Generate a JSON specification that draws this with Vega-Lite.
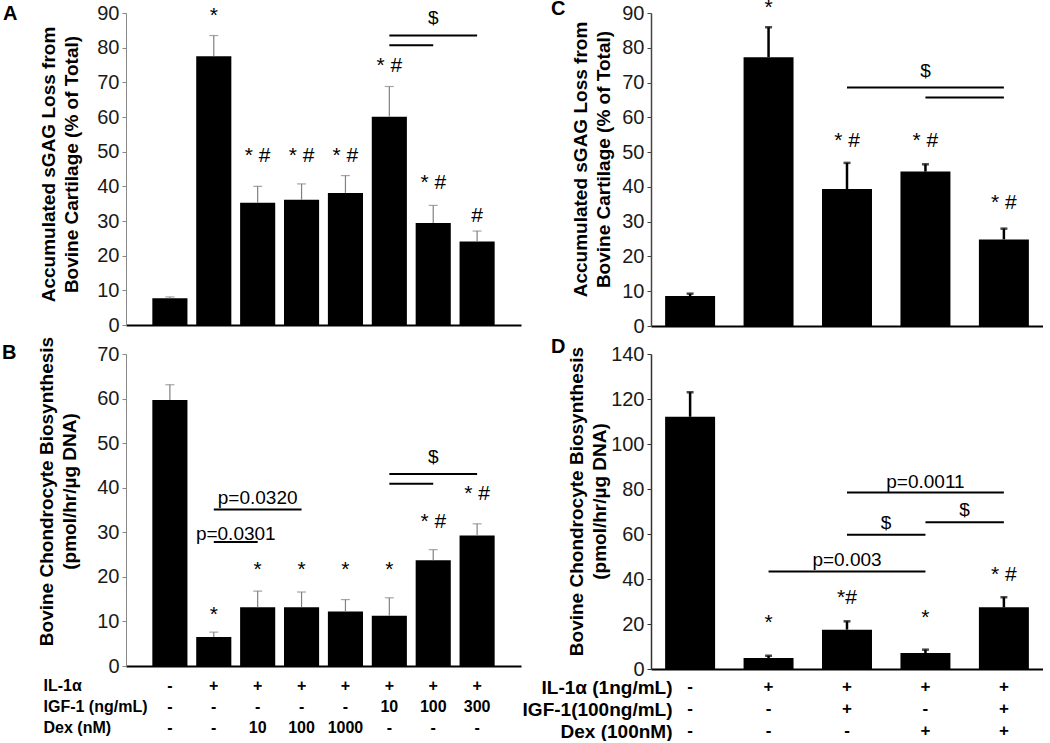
{
  "$schema": "https://vega.github.io/schema/vega-lite/v6.json",
  "background": "white",
  "padding": {"left": 2, "top": -4, "right": 0, "bottom": 0},
  "columns": 2,
  "spacing": {"row": 0, "column": 1},
  "config": {
    "view": {"stroke": null},
    "font": "Liberation Sans",
    "axis": {"grid": false, "labelFont": "Liberation Sans", "titleFont": "Liberation Sans", "labelOverlap": false},
    "axisY": {"labelOverlap": false},
    "title": {"font": "Liberation Sans", "fontSize": 20, "fontWeight": "bold", "anchor": "start", "frame": "group", "color": "black", "baseline": "alphabetic"},
    "text": {"font": "Liberation Sans", "color": "black"}
  },
  "datasets": {
    "A": [
      {"cond": "1|-|-|-", "mean": 7.7, "upper": 8.1, "sig": "", "sigY": 0},
      {"cond": "2|+|-|-", "mean": 77.5, "upper": 83.5, "sig": "*", "sigY": 87.4},
      {"cond": "3|+|-|10", "mean": 35.3, "upper": 40.0, "sig": "* #", "sigY": 47},
      {"cond": "4|+|-|100", "mean": 36.1, "upper": 40.7, "sig": "* #", "sigY": 47},
      {"cond": "5|+|-|1000", "mean": 38.1, "upper": 43.1, "sig": "* #", "sigY": 47},
      {"cond": "6|+|10|-", "mean": 60.1, "upper": 68.8, "sig": "* #", "sigY": 73},
      {"cond": "7|+|100|-", "mean": 29.4, "upper": 34.5, "sig": "* #", "sigY": 39.3},
      {"cond": "8|+|300|-", "mean": 24.1, "upper": 27.1, "sig": "#", "sigY": 29.6}
    ],
    "A_lines": [
      {"from": "6|+|10|-", "to": "8|+|300|-", "y": 83.5},
      {"from": "6|+|10|-", "to": "7|+|100|-", "y": 80.7}
    ],
    "A_notes": [
      {"at": "7|+|100|-", "y": 86.9, "label": "$"}
    ],
    "B": [
      {"cond": "1|-|-|-", "mean": 59.7, "upper": 63.1, "sig": "", "sigY": 0},
      {"cond": "2|+|-|-", "mean": 6.5, "upper": 7.6, "sig": "*", "sigY": 10.1},
      {"cond": "3|+|-|10", "mean": 13.2, "upper": 16.8, "sig": "*", "sigY": 20.1},
      {"cond": "4|+|-|100", "mean": 13.2, "upper": 16.6, "sig": "*", "sigY": 20.1},
      {"cond": "5|+|-|1000", "mean": 12.2, "upper": 14.9, "sig": "*", "sigY": 20.1},
      {"cond": "6|+|10|-", "mean": 11.3, "upper": 15.3, "sig": "*", "sigY": 20.1},
      {"cond": "7|+|100|-", "mean": 23.7, "upper": 26.1, "sig": "* #", "sigY": 31.0},
      {"cond": "8|+|300|-", "mean": 29.3, "upper": 31.9, "sig": "* #", "sigY": 37.3}
    ],
    "B_lines": [
      {"from": "6|+|10|-", "to": "8|+|300|-", "y": 43.1},
      {"from": "6|+|10|-", "to": "7|+|100|-", "y": 40.9},
      {"from": "2|+|-|-", "to": "4|+|-|100", "y": 35.1},
      {"from": "2|+|-|-", "to": "3|+|-|10", "y": 27.8}
    ],
    "B_notes": [
      {"at": "7|+|100|-", "y": 45.5, "label": "$"},
      {"at": "3|+|-|10", "y": 36.3, "label": "p=0.0320"}
    ],
    "B_notes_mid": [
      {"at": "2|+|-|-", "y": 28.3, "label": "p=0.0301"}
    ],
    "C": [
      {"cond": "1|-|-|-", "mean": 8.6, "upper": 9.3, "sig": "", "sigY": 0},
      {"cond": "2|+|-|-", "mean": 77.3, "upper": 85.9, "sig": "*", "sigY": 89.8},
      {"cond": "3|+|+|-", "mean": 39.4, "upper": 46.9, "sig": "* #", "sigY": 51.6},
      {"cond": "4|+|-|+", "mean": 44.4, "upper": 46.5, "sig": "* #", "sigY": 51.6},
      {"cond": "5|+|+|+", "mean": 24.9, "upper": 28.0, "sig": "* #", "sigY": 33.5}
    ],
    "C_lines": [
      {"from": "3|+|+|-", "to": "5|+|+|+", "y": 68.6},
      {"from": "4|+|-|+", "to": "5|+|+|+", "y": 65.7}
    ],
    "C_notes": [
      {"at": "4|+|-|+", "y": 71.7, "label": "$"}
    ],
    "D": [
      {"cond": "1|-|-|-", "mean": 112.1, "upper": 123.0, "sig": "", "sigY": 0},
      {"cond": "2|+|-|-", "mean": 4.9, "upper": 5.9, "sig": "*", "sigY": 17.8},
      {"cond": "3|+|+|-", "mean": 17.5, "upper": 21.2, "sig": "*#", "sigY": 28.9},
      {"cond": "4|+|-|+", "mean": 7.1, "upper": 8.6, "sig": "*", "sigY": 20.0},
      {"cond": "5|+|+|+", "mean": 27.4, "upper": 31.9, "sig": "* #", "sigY": 39.3}
    ],
    "D_lines": [
      {"from": "3|+|+|-", "to": "5|+|+|+", "y": 78.4},
      {"from": "3|+|+|-", "to": "4|+|-|+", "y": 59.7},
      {"from": "4|+|-|+", "to": "5|+|+|+", "y": 65.2},
      {"from": "2|+|-|-", "to": "4|+|-|+", "y": 43.3}
    ],
    "D_notes": [
      {"at": "4|+|-|+", "y": 80.3, "label": "p=0.0011"},
      {"at": "3|+|+|-", "y": 45.9, "label": "p=0.003"}
    ],
    "D_notes_mid": [
      {"at": "3|+|+|-", "y": 62.2, "label": "$"},
      {"at": "4|+|-|+", "y": 68.1, "label": "$"}
    ]
  },
  "concat": [
    {
      "width": 395, "height": 312,
      "title": {"text": "A", "dx": -123, "offset": -21},
      "layer": [
        {"data": {"name": "A"}, "mark": {"type": "bar", "color": "black"},
         "encoding": {
           "x": {"field": "cond", "type": "ordinal", "scale": {"paddingInner": 0.2, "paddingOuter": 0.6},
                 "axis": {"labels": false, "ticks": false, "tickSize": 0, "title": null, "domainColor": "black", "domainWidth": 2}},
           "y": {"field": "mean", "type": "quantitative", "scale": {"domain": [0, 90], "nice": false},
                 "axis": {"values": [0, 10, 20, 30, 40, 50, 60, 70, 80, 90], "tickCount": 10, "labelOverlap": false, "title": ["Accumulated sGAG Loss from", "Bovine Cartilage (% of Total)"],
                          "domainColor": "#888888", "domainWidth": 1, "tickColor": "#888888", "tickSize": 4,
                          "labelFontSize": 20, "labelColor": "#1a1a1a", "labelPadding": 3,
                          "titleFontSize": 19, "titleFontWeight": "bold", "titleColor": "black", "titleLineHeight": 23, "titlePadding": 15, "titleY": 151}}
         }},
        {"data": {"name": "A"}, "mark": {"type": "rule", "color": "#808080", "strokeWidth": 1.2},
         "encoding": {"x": {"field": "cond", "type": "ordinal"}, "y": {"field": "mean", "type": "quantitative"}, "y2": {"field": "upper"}}},
        {"data": {"name": "A"}, "mark": {"type": "tick", "color": "#808080", "thickness": 1.2, "size": 9},
         "encoding": {"x": {"field": "cond", "type": "ordinal"}, "y": {"field": "upper", "type": "quantitative"}}},
        {"data": {"name": "A"}, "mark": {"type": "text", "fontSize": 21, "baseline": "alphabetic"},
         "encoding": {"x": {"field": "cond", "type": "ordinal"}, "y": {"field": "sigY", "type": "quantitative"}, "text": {"field": "sig"}}},
        {"data": {"name": "A_lines"}, "mark": {"type": "rule", "color": "black", "strokeWidth": 2},
         "encoding": {"x": {"field": "from", "type": "ordinal"}, "x2": {"field": "to"}, "y": {"field": "y", "type": "quantitative"}}},
        {"data": {"name": "A_notes"}, "mark": {"type": "text", "fontSize": 19, "baseline": "alphabetic"},
         "encoding": {"x": {"field": "at", "type": "ordinal"}, "y": {"field": "y", "type": "quantitative"}, "text": {"field": "label"}}}
      ]
    },
    {
      "width": 392, "height": 313,
      "title": {"text": "C", "dx": -100, "offset": -22},
      "layer": [
        {"data": {"name": "C"}, "mark": {"type": "bar", "color": "black"},
         "encoding": {
           "x": {"field": "cond", "type": "ordinal", "scale": {"paddingInner": 0.363, "paddingOuter": 0.18},
                 "axis": {"labels": false, "ticks": false, "tickSize": 0, "title": null, "domainColor": "black", "domainWidth": 2}},
           "y": {"field": "mean", "type": "quantitative", "scale": {"domain": [0, 90], "nice": false},
                 "axis": {"values": [0, 10, 20, 30, 40, 50, 60, 70, 80, 90], "tickCount": 10, "labelOverlap": false, "title": ["Accumulated sGAG Loss from", "Bovine Cartilage (% of Total)"],
                          "domainColor": "#444444", "domainWidth": 1.5, "tickColor": "#444444", "tickSize": 4,
                          "labelFontSize": 20, "labelColor": "#1a1a1a", "labelPadding": 3,
                          "titleFontSize": 19, "titleFontWeight": "bold", "titleColor": "black", "titleLineHeight": 23, "titlePadding": 8, "titleY": 146}}
         }},
        {"data": {"name": "C"}, "mark": {"type": "rule", "color": "black", "strokeWidth": 2.5},
         "encoding": {"x": {"field": "cond", "type": "ordinal"}, "y": {"field": "mean", "type": "quantitative"}, "y2": {"field": "upper"}}},
        {"data": {"name": "C"}, "mark": {"type": "tick", "color": "black", "thickness": 2.5, "size": 7},
         "encoding": {"x": {"field": "cond", "type": "ordinal"}, "y": {"field": "upper", "type": "quantitative"}}},
        {"data": {"name": "C"}, "mark": {"type": "text", "fontSize": 21, "baseline": "alphabetic"},
         "encoding": {"x": {"field": "cond", "type": "ordinal"}, "y": {"field": "sigY", "type": "quantitative"}, "text": {"field": "sig"}}},
        {"data": {"name": "C_lines"}, "mark": {"type": "rule", "color": "black", "strokeWidth": 2},
         "encoding": {"x": {"field": "from", "type": "ordinal"}, "x2": {"field": "to"}, "y": {"field": "y", "type": "quantitative"}}},
        {"data": {"name": "C_notes"}, "mark": {"type": "text", "fontSize": 19, "baseline": "alphabetic"},
         "encoding": {"x": {"field": "at", "type": "ordinal"}, "y": {"field": "y", "type": "quantitative"}, "text": {"field": "label"}}}
      ]
    },
    {
      "width": 395, "height": 312,
      "title": {"text": "B", "dx": -124, "offset": -27},
      "layer": [
        {"data": {"name": "B"}, "mark": {"type": "bar", "color": "black"},
         "encoding": {
           "x": {"field": "cond", "type": "ordinal", "scale": {"paddingInner": 0.2, "paddingOuter": 0.6},
                 "axis": {"labelExpr": "slice(split(datum.label, '|'), 1)", "labelFontSize": 16, "labelFontWeight": "bold", "labelColor": "black",
                          "labelLineHeight": 21, "labelBaseline": "top", "labelPadding": 11, "labelAngle": 0, "labelOverlap": false, "labelBound": false,
                          "ticks": false, "tickSize": 0, "domainColor": "black", "domainWidth": 2,
                          "title": ["IL-1α", "IGF-1 (ng/mL)", "Dex (nM)"], "titleX": -83, "titleY": 11, "titleAlign": "left", "titleBaseline": "top", "titleAngle": 0,
                          "titleFontSize": 16, "titleFontWeight": "bold", "titleLineHeight": 21, "titleColor": "black"}},
           "y": {"field": "mean", "type": "quantitative", "scale": {"domain": [0, 70], "nice": false},
                 "axis": {"values": [0, 10, 20, 30, 40, 50, 60, 70], "labelOverlap": false, "title": ["Bovine Chondrocyte Biosynthesis", "(pmol/hr/µg DNA)"],
                          "domainColor": "#888888", "domainWidth": 1, "tickColor": "#888888", "tickSize": 4,
                          "labelFontSize": 20, "labelColor": "#1a1a1a", "labelPadding": 3,
                          "titleFontSize": 19, "titleFontWeight": "bold", "titleColor": "black", "titleLineHeight": 23, "titlePadding": 17, "titleY": 137}}
         }},
        {"data": {"name": "B"}, "mark": {"type": "rule", "color": "#808080", "strokeWidth": 1.2},
         "encoding": {"x": {"field": "cond", "type": "ordinal"}, "y": {"field": "mean", "type": "quantitative"}, "y2": {"field": "upper"}}},
        {"data": {"name": "B"}, "mark": {"type": "tick", "color": "#808080", "thickness": 1.2, "size": 9},
         "encoding": {"x": {"field": "cond", "type": "ordinal"}, "y": {"field": "upper", "type": "quantitative"}}},
        {"data": {"name": "B"}, "mark": {"type": "text", "fontSize": 21, "baseline": "alphabetic"},
         "encoding": {"x": {"field": "cond", "type": "ordinal"}, "y": {"field": "sigY", "type": "quantitative"}, "text": {"field": "sig"}}},
        {"data": {"name": "B_lines"}, "mark": {"type": "rule", "color": "black", "strokeWidth": 2},
         "encoding": {"x": {"field": "from", "type": "ordinal"}, "x2": {"field": "to"}, "y": {"field": "y", "type": "quantitative"}}},
        {"data": {"name": "B_notes"}, "mark": {"type": "text", "fontSize": 19, "baseline": "alphabetic"},
         "encoding": {"x": {"field": "at", "type": "ordinal"}, "y": {"field": "y", "type": "quantitative"}, "text": {"field": "label"}}},
        {"data": {"name": "B_notes_mid"}, "mark": {"type": "text", "fontSize": 19, "baseline": "alphabetic", "dx": 22},
         "encoding": {"x": {"field": "at", "type": "ordinal"}, "y": {"field": "y", "type": "quantitative"}, "text": {"field": "label"}}}
      ]
    },
    {
      "width": 392, "height": 315,
      "title": {"text": "D", "dx": -100, "offset": -13},
      "layer": [
        {"data": {"name": "D"}, "mark": {"type": "bar", "color": "black"},
         "encoding": {
           "x": {"field": "cond", "type": "ordinal", "scale": {"paddingInner": 0.363, "paddingOuter": 0.18},
                 "axis": {"labelExpr": "slice(split(datum.label, '|'), 1)", "labelFontSize": 17, "labelFontWeight": "bold", "labelColor": "black",
                          "labelLineHeight": 22, "labelBaseline": "top", "labelPadding": 9, "labelAngle": 0, "labelOverlap": false, "labelBound": false,
                          "ticks": false, "tickSize": 0, "domainColor": "black", "domainWidth": 2,
                          "title": ["IL-1α (1ng/mL)", "IGF-1(100ng/mL)", "Dex (100nM)"], "titleX": 21, "titleY": 9, "titleAlign": "right", "titleBaseline": "top", "titleAngle": 0,
                          "titleFontSize": 19, "titleFontWeight": "bold", "titleLineHeight": 22, "titleColor": "black"}},
           "y": {"field": "mean", "type": "quantitative", "scale": {"domain": [0, 140], "nice": false},
                 "axis": {"values": [0, 20, 40, 60, 80, 100, 120, 140], "labelOverlap": false, "title": ["Bovine Chondrocyte Biosynthesis", "(pmol/hr/µg DNA)"],
                          "domainColor": "#333333", "domainWidth": 1.5, "tickColor": "#333333", "tickSize": 4,
                          "labelFontSize": 20, "labelColor": "#1a1a1a", "labelPadding": 3,
                          "titleFontSize": 19, "titleFontWeight": "bold", "titleColor": "black", "titleLineHeight": 23, "titlePadding": 1, "titleY": 147}}
         }},
        {"data": {"name": "D"}, "mark": {"type": "rule", "color": "black", "strokeWidth": 2.5},
         "encoding": {"x": {"field": "cond", "type": "ordinal"}, "y": {"field": "mean", "type": "quantitative"}, "y2": {"field": "upper"}}},
        {"data": {"name": "D"}, "mark": {"type": "tick", "color": "black", "thickness": 2.5, "size": 7},
         "encoding": {"x": {"field": "cond", "type": "ordinal"}, "y": {"field": "upper", "type": "quantitative"}}},
        {"data": {"name": "D"}, "mark": {"type": "text", "fontSize": 21, "baseline": "alphabetic"},
         "encoding": {"x": {"field": "cond", "type": "ordinal"}, "y": {"field": "sigY", "type": "quantitative"}, "text": {"field": "sig"}}},
        {"data": {"name": "D_lines"}, "mark": {"type": "rule", "color": "black", "strokeWidth": 2},
         "encoding": {"x": {"field": "from", "type": "ordinal"}, "x2": {"field": "to"}, "y": {"field": "y", "type": "quantitative"}}},
        {"data": {"name": "D_notes"}, "mark": {"type": "text", "fontSize": 19, "baseline": "alphabetic"},
         "encoding": {"x": {"field": "at", "type": "ordinal"}, "y": {"field": "y", "type": "quantitative"}, "text": {"field": "label"}}},
        {"data": {"name": "D_notes_mid"}, "mark": {"type": "text", "fontSize": 19, "baseline": "alphabetic", "dx": 39},
         "encoding": {"x": {"field": "at", "type": "ordinal"}, "y": {"field": "y", "type": "quantitative"}, "text": {"field": "label"}}}
      ]
    }
  ]
}
